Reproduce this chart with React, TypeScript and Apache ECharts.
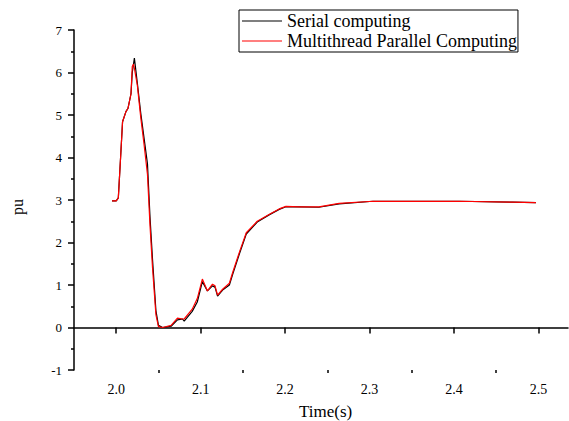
import React, { useEffect, useRef } from "react";
import * as echarts from "echarts";

const times = [
  1.995, 2.0, 2.0025, 2.005, 2.0075, 2.0115, 2.014, 2.0175, 2.019, 2.0205, 2.0215,
  2.025, 2.029, 2.033, 2.037, 2.04, 2.043, 2.047, 2.05, 2.055, 2.065, 2.0725, 2.0785,
  2.0805, 2.09, 2.096, 2.102, 2.108, 2.114, 2.117, 2.12, 2.126, 2.134, 2.138, 2.146,
  2.154, 2.167, 2.181, 2.193, 2.201, 2.217, 2.24, 2.264, 2.304, 2.406, 2.469, 2.497,
];

const serial = [
  2.98, 2.98, 3.05, 3.94, 4.84, 5.08, 5.16, 5.5, 6.0, 6.2, 6.34,
  5.75, 5.05, 4.45, 3.85, 2.6, 1.6, 0.4, 0.05, 0.0, 0.03, 0.18, 0.2,
  0.15, 0.38, 0.6, 1.08, 0.86, 0.98, 0.95, 0.74, 0.88, 1.0, 1.26, 1.74,
  2.2, 2.48, 2.65, 2.78, 2.84, 2.84, 2.83, 2.91, 2.97, 2.97, 2.95, 2.94,
];

const parallel = [
  2.98, 2.98, 3.05, 3.94, 4.84, 5.08, 5.16, 5.5, 6.14, 6.2, 6.1,
  5.7, 4.95, 4.3, 3.6, 2.4, 1.4, 0.3, 0.02, 0.0, 0.05, 0.22, 0.2,
  0.2, 0.43, 0.68, 1.14, 0.86, 1.02, 0.98, 0.76, 0.9, 1.04, 1.3, 1.78,
  2.23, 2.5, 2.66, 2.79, 2.85, 2.84, 2.84, 2.92, 2.97, 2.97, 2.95, 2.94,
];

const xMajor = [2.0, 2.1, 2.2, 2.3, 2.4, 2.5];
const xMinor = [2.05, 2.15, 2.25, 2.35, 2.45];

const FONT = "'Liberation Serif', 'Times New Roman', serif";

export default function App() {
  const ref = useRef<HTMLDivElement>(null);
  useEffect(() => {
    if (!ref.current) return;
    const chart = echarts.init(ref.current, null, { renderer: "svg" });
    const axisLine = { show: true, lineStyle: { color: "#000", width: 1.5 } };
    chart.setOption({
      animation: false,
      backgroundColor: "#fff",
      textStyle: { fontFamily: FONT },
      grid: { left: 74, right: 1, top: 30, bottom: 51 },
      legend: {
        orient: "vertical",
        left: 239,
        top: 10,
        itemWidth: 40,
        itemHeight: 1.2,
        icon: "rect",
        itemGap: 2,
        padding: [2, 1, 2, 3],
        borderColor: "#000",
        borderWidth: 1,
        textStyle: { fontFamily: FONT, fontSize: 18, color: "#000", padding: [0, 0, 0, 0] },
        data: ["Serial computing", "Multithread Parallel Computing"],
      },
      xAxis: [
        {
          type: "value",
          min: 1.95,
          max: 2.535,
          axisLine,
          splitLine: { show: false },
          axisTick: { show: true, length: 6, customValues: xMajor, lineStyle: { color: "#000", width: 1.5 } },
          axisLabel: {
            customValues: xMajor,
            formatter: (v: number) => v.toFixed(1),
            color: "#000",
            fontFamily: FONT,
            fontSize: 14,
            margin: 12,
          },
        },
        {
          type: "value",
          min: 1.95,
          max: 2.535,
          position: "bottom",
          axisLine: { show: false },
          splitLine: { show: false },
          axisTick: { show: true, length: 3, customValues: xMinor, lineStyle: { color: "#000", width: 1.5 } },
          axisLabel: { show: false },
        },
      ],
      yAxis: {
        type: "value",
        min: -1,
        max: 7,
        interval: 1,
        axisLine,
        splitLine: { show: false },
        axisTick: { show: true, length: 6, lineStyle: { color: "#000", width: 1.5 } },
        minorTick: { show: true, splitNumber: 2, length: 3, lineStyle: { color: "#000", width: 1.5 } },
        axisLabel: { color: "#000", fontFamily: FONT, fontSize: 13, margin: 12 },
      },
      graphic: [
        {
          type: "text",
          left: 299,
          top: 403,
          style: { text: "Time(s)", font: `17px ${FONT}`, fill: "#000" },
        },
        {
          type: "text",
          x: 9,
          y: 215,
          rotation: Math.PI / 2,
          style: { text: "pu", font: `16px ${FONT}`, fill: "#000" },
        },
      ],
      series: [
        {
          name: "Serial computing",
          type: "line",
          showSymbol: false,
          symbol: "none",
          color: "#000",
          lineStyle: { color: "#000", width: 1.2 },
          data: times.map((t, i) => [t, serial[i]]),
        },
        {
          name: "Multithread Parallel Computing",
          type: "line",
          showSymbol: false,
          symbol: "none",
          color: "#ff0000",
          lineStyle: { color: "#ff0000", width: 1.2 },
          data: times.map((t, i) => [t, parallel[i]]),
        },
      ],
    });
    return () => chart.dispose();
  }, []);
  return <div ref={ref} style={{ width: 569, height: 421, position: "absolute", left: 0, top: 0 }} />;
}
